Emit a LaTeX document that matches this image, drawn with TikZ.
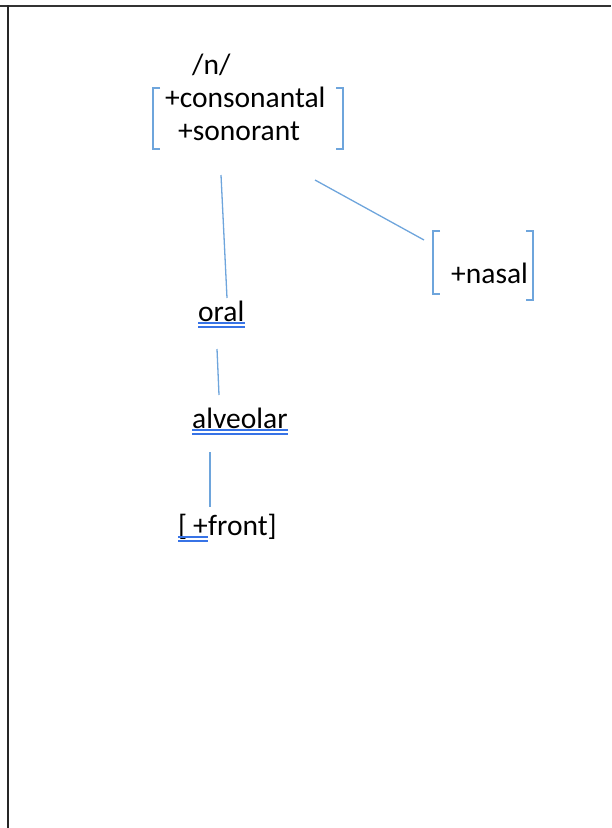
\documentclass[tikz,border=0pt]{standalone}
\usepackage{fontspec}
\setmainfont{Carlito}
\usetikzlibrary{calc}
\definecolor{linkblue}{RGB}{110,165,220}
\definecolor{ulblue}{RGB}{55,115,230}
\tikzset{feat/.style={inner sep=0pt, anchor=base west, font=\fontsize{29.5}{35}\selectfont},
	link/.style={draw=linkblue, line width=1.3pt},
	brack/.style={draw=linkblue, line width=1.4pt},
	uline/.style={draw=ulblue, line width=1.4pt}
}

\begin{document}
\begin{tikzpicture}[x=1pt,y=-1pt,line cap=butt]
	\useasboundingbox (0,0) rectangle (611,828);
	% page frame
	\draw [black!80, line width=2pt] (0,5.5) -- (611,5.5);
	\draw [black!85, line width=2.4pt] (8,5) -- (8,828);
	
	% root bundle
	\node[feat] (phon) at (192,74) {/n/};
	\node[feat] (cons) at (165,107) {+consonantal};
	\node[feat] (son) at (178,140) {+sonorant};
	\draw[brack] (160,88) -- (153,88) -- (153,149) -- (160,149);
	\draw[brack] (336,88) -- (343,88) -- (343,149) -- (336,149);
	
	% nasal bundle
	\node[feat] (nasal) at (451,283) {+nasal};
	\draw[brack] (440,231) -- (433,231) -- (433,294) -- (440,294);
	\draw[brack] (526,231) -- (533,231) -- (533,300) -- (526,300);
	
	% place chain
	\node[feat] (oral) at (198,321) {oral};
	\node[feat] (alv) at (192,428) {alveolar};
	\node[feat] (lb) at (178,535) {[\kern0.2em+};
	\node[feat] (front) at (lb.base east) {front]};
	\foreach \n in {oral,alv,lb}{
		\draw[uline] ([yshift=-2pt]\n.base west) -- ([yshift=-2pt]\n.base east);
		\draw[uline] ([yshift=-6pt]\n.base west) -- ([yshift=-6pt]\n.base east);}
	
	\coordinate (root-b) at (221,175);
	\coordinate (root-r) at (315,180);
	\coordinate (nasal-t) at (424,240);
	\coordinate (oral-t) at (227,298);
	\coordinate (oral-b) at (217,349);
	\coordinate (alv-t) at (219,395);
	\coordinate (alv-b) at (210,452);
	\coordinate (front-t) at (210,507);
	\draw[link] (root-b) -- (oral-t);
	\draw[link] (root-r) -- (nasal-t);
	\draw[link] (oral-b) -- (alv-t);
	\draw[link] (alv-b) -- (front-t);
\end{tikzpicture}
\end{document}
